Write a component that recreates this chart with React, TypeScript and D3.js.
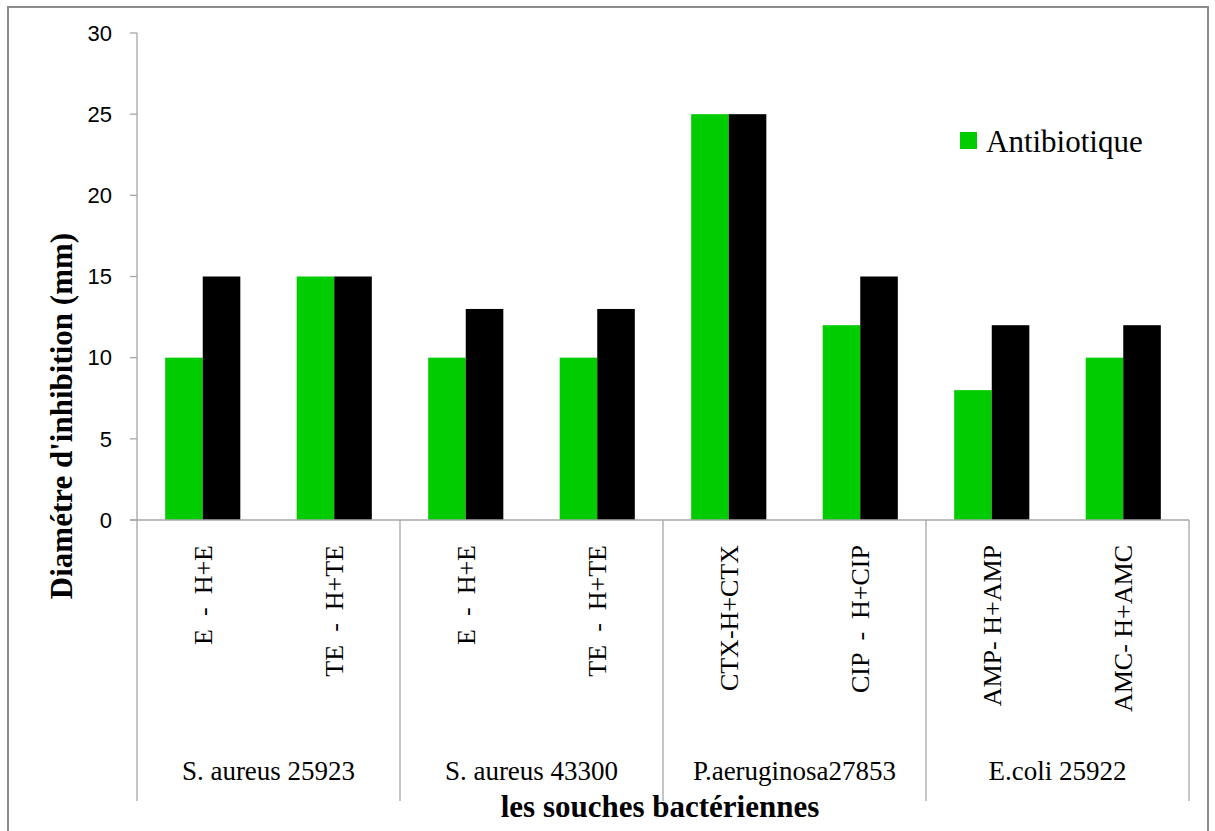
import React from "react";
import * as d3 from "d3";

const categories = [
  "E  -  H+E",
  "TE  -  H+TE",
  "E  -  H+E",
  "TE  -  H+TE",
  "CTX-H+CTX",
  "CIP  -  H+CIP",
  "AMP- H+AMP",
  "AMC- H+AMC",
];
const groups = ["S. aureus 25923", "S. aureus 43300", "P.aeruginosa27853", "E.coli 25922"];
const antibiotique = [10, 15, 10, 10, 25, 12, 8, 10];
const combine = [15, 15, 13, 13, 25, 15, 12, 12];
const seriesNames = ["Antibiotique", "H+Antibiotique"];
const yTicks = [0, 5, 10, 15, 20, 25, 30];

const W = 1215;
const H = 831;
const left = 137;
const right = 1189;
const top = 33;
const bottom = 520;
const axisColor = "#a6a6a6";
const green = "#00cc00";
const serif = "'Liberation Serif', 'Times New Roman', serif";
const sans = "'Liberation Sans', Arial, sans-serif";

export default function App() {
  const idx = categories.map((_, i) => String(i));
  const x = d3.scaleBand<string>().domain(idx).range([left, right]).padding(0);
  const xs = d3
    .scaleBand<string>()
    .domain(seriesNames)
    .range([0, x.bandwidth()])
    .paddingInner(0)
    .paddingOuter(0.75);
  const y = d3.scaleLinear().domain([0, 30]).range([bottom, top]);
  const series = [antibiotique, combine];
  const colors = [green, "#000000"];
  const groupW = (right - left) / groups.length;

  return (
    <svg
      width={W}
      height={H}
      style={{ position: "absolute", left: 0, top: 0, background: "#fff" }}
    >
      <rect x={8} y={7} width={1200} height={840} fill="#fff" stroke="#8c8c8c" strokeWidth={2} />

      {/* bars */}
      {series.map((vals, s) =>
        vals.map((v, i) => (
          <rect
            key={`${s}-${i}`}
            x={(x(String(i)) as number) + (xs(seriesNames[s]) as number)}
            y={y(v)}
            width={xs.bandwidth()}
            height={y(0) - y(v)}
            fill={colors[s]}
          />
        ))
      )}

      {/* y axis */}
      <line x1={left} x2={left} y1={top} y2={bottom} stroke={axisColor} strokeWidth={1.3} />
      {yTicks.map((t) => (
        <g key={t}>
          <line x1={left - 7} x2={left} y1={y(t)} y2={y(t)} stroke={axisColor} strokeWidth={1.3} />
          <text
            x={112}
            y={y(t)}
            dy="0.35em"
            textAnchor="end"
            fontFamily={sans}
            fontSize={22}
            fill="#000"
          >
            {t}
          </text>
        </g>
      ))}

      {/* x axis */}
      <line x1={left - 7} x2={right} y1={bottom} y2={bottom} stroke={axisColor} strokeWidth={1.3} />
      {d3.range(groups.length + 1).map((g) => (
        <line
          key={g}
          x1={left + g * groupW}
          x2={left + g * groupW}
          y1={bottom}
          y2={801}
          stroke={axisColor}
          strokeWidth={1.3}
        />
      ))}

      {categories.map((c, i) => {
        const cx = (x(String(i)) as number) + x.bandwidth() / 2;
        return (
          <text
            key={i}
            transform={`translate(${cx},545) rotate(-90)`}
            dy="0.35em"
            textAnchor="end"
            fontFamily={serif}
            fontSize={26}
            fill="#000"
            style={{ whiteSpace: "pre" }}
          >
            {c}
          </text>
        );
      })}

      {groups.map((g, i) => (
        <text
          key={g}
          x={left + groupW * (i + 0.5)}
          y={780}
          textAnchor="middle"
          fontFamily={serif}
          fontSize={27}
          fill="#000"
        >
          {g}
        </text>
      ))}

      {/* axis titles */}
      <text
        x={660}
        y={817}
        textAnchor="middle"
        fontFamily={serif}
        fontWeight="bold"
        fontSize={31}
        fill="#000"
      >
        les souches bactériennes
      </text>
      <text
        transform={`translate(72,416) rotate(-90)`}
        textAnchor="middle"
        fontFamily={serif}
        fontWeight="bold"
        fontSize={31}
        fill="#000"
      >
        Diamétre d'inhibition (mm)
      </text>

      {/* legend */}
      <rect x={960} y={132} width={17} height={17} fill={green} />
      <text x={986} y={152} fontFamily={serif} fontSize={31} fill="#000">
        {seriesNames[0]}
      </text>
    </svg>
  );
}
